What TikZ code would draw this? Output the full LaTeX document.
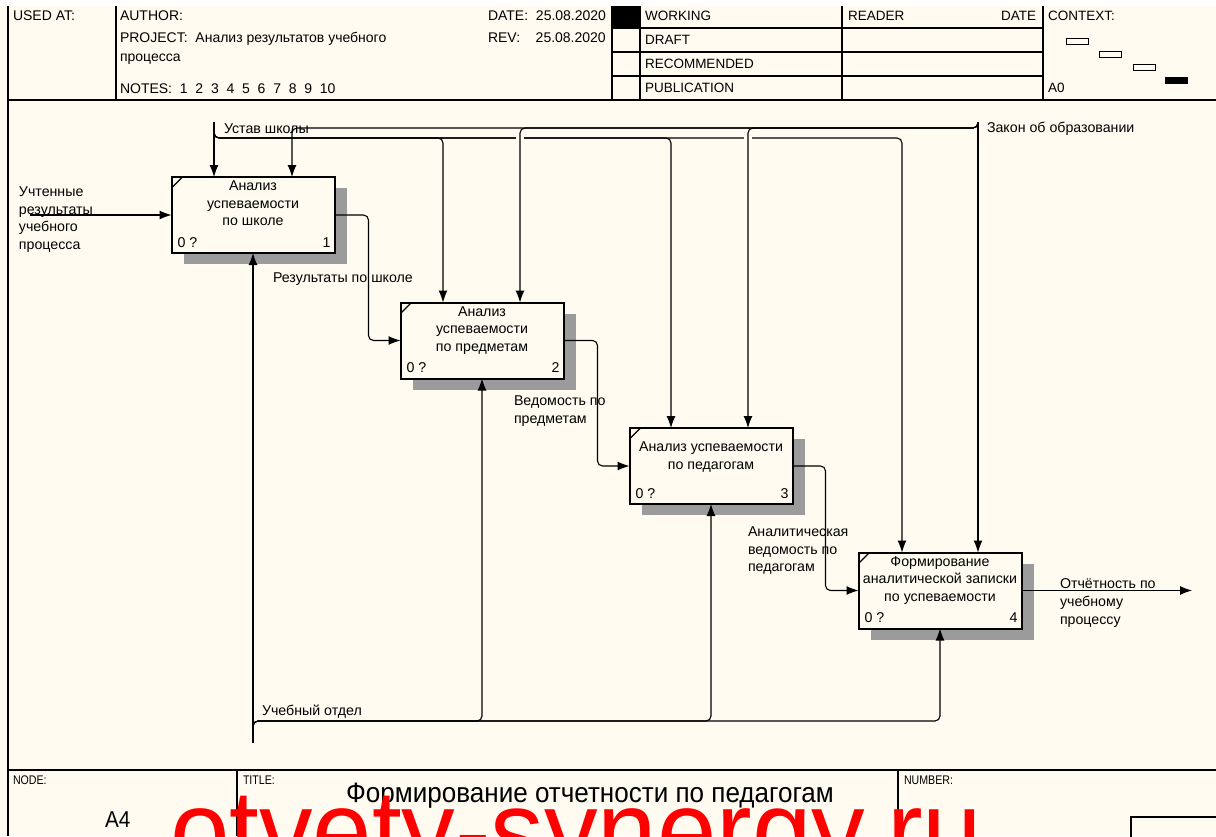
\documentclass[tikz,border=0pt]{standalone}
\usepackage{fontspec}
\setmainfont{Liberation Sans}
\usetikzlibrary{arrows.meta,calc,shadows}
\definecolor{paper}{RGB}{255,251,240}
\definecolor{shade}{RGB}{155,155,155}
\definecolor{wmred}{RGB}{255,0,0}

\begin{document}
\begin{tikzpicture}[x=1pt,y=-1pt,
  every node/.style={inner sep=0pt, outer sep=0pt},
  txt/.style={font=\fontsize{14.2}{17.6}\selectfont},
  hdr/.style={font=\fontsize{14}{16}\selectfont, anchor=base west},
  stat/.style={font=\fontsize{13.5}{16}\selectfont, anchor=base west},
  ftr/.style={font=\fontsize{12.5}{14}\selectfont, anchor=base west},
  func/.style={draw, line width=2pt, fill=paper, minimum width=163pt, minimum height=76pt,
    drop shadow={shadow xshift=12pt, shadow yshift=-11pt, fill=shade, opacity=1}},
  arr/.style={line width=1.1pt, -{Latex[length=12pt,width=9pt]}},
  roundlink/.style={rounded corners=5pt},
  lbl/.style={txt, anchor=north west, align=left},
  frame/.style={line width=1.6pt},
  cell/.style={line width=1.2pt},
]
\useasboundingbox (0,0) rectangle (1216,836);
\clip (0,0) rectangle (1216,836);

% paper
\fill[white] (0,0) rectangle (1216,6);
\fill[paper] (0,6) rectangle (1216,836);

% ---------- header ----------
\draw[frame] (8,6) -- (8,836);
\draw[frame] (8,100) -- (1216,100);
\foreach \x in {116,612,640,842,1043} \draw[cell] (\x,6) -- (\x,100);
\foreach \y in {28,52,76} \draw[cell] (612,\y) -- (1043,\y);
\fill (612,6) rectangle (640,28);

\node[hdr] (usedat) at (13,20.5) {USED AT:};
\node[hdr] (author) at (120,20.5) {AUTHOR:};
\node[hdr] (project) at (120,42.5) {PROJECT:\ \ Анализ результатов учебного};
\node[hdr] (project2) at (120,61) {процесса};
\node[hdr] (notes) at (120,93) {NOTES:\ \ 1\ \ 2\ \ 3\ \ 4\ \ 5\ \ 6\ \ 7\ \ 8\ \ 9\ \ 10};
\node[hdr] (date) at (488,20.5) {DATE:\ \ 25.08.2020};
\node[hdr] (rev) at (488,42.5) {REV:\ \ \ \ 25.08.2020};
\node[stat] (working) at (645,20.5) {WORKING};
\node[stat] (draft) at (645,44.5) {DRAFT};
\node[stat] (recomm) at (645,68.5) {RECOMMENDED};
\node[stat] (public) at (645,92.5) {PUBLICATION};
\node[stat] (reader) at (848,20.5) {READER};
\node[stat, anchor=base east] (rdate) at (1036,20.5) {DATE};
\node[stat] (context) at (1048,20.5) {CONTEXT:};
\node[stat] (ctxnode) at (1048,92.5) {A0};

% context map
\draw[line width=1pt] (1066,38) rectangle (1088,44);
\draw[line width=1pt] (1099,51) rectangle (1121,57);
\draw[line width=1pt] (1133,64) rectangle (1155,70);
\fill (1165,77) rectangle (1188,84);

% ---------- footer ----------
\draw[frame] (8,770) -- (1216,770);
\draw[cell] (237,770) -- (237,836);
\draw[cell] (898,770) -- (898,836);
\draw[cell] (1131,846) -- (1131,817) -- (1226,817);
\node[ftr, xscale=0.85, anchor=base west] (nodelbl) at (13,784) {NODE:};
\node[ftr, xscale=0.85, anchor=base west] (titlelbl) at (243,784) {TITLE:};
\node[ftr, xscale=0.85, anchor=base west] (numlbl) at (904,784) {NUMBER:};
\node[font=\fontsize{28}{32}\selectfont, xscale=0.93, anchor=base] (title) at (590,802) {Формирование отчетности по педагогам};
\node[font=\fontsize{23}{26}\selectfont, xscale=0.9, anchor=base west] (nodeid) at (105,827) {A4};

% ---------- activity boxes ----------
\node[func] (b1) at (253,215) {};
\node[func] (b2) at (482,340.5) {};
\node[func] (b3) at (711,466) {};
\node[func] (b4) at (940,590.5) {};

\foreach \b/\n in {b1/1,b2/2,b3/3,b4/4}{
  \draw[line width=1.2pt] ($(\b.north west)+(0,11)$) -- ($(\b.north west)+(11,0)$);
  \node[txt, anchor=base west] at ($(\b.south west)+(6,-6)$) {0 ?};
  \node[txt, anchor=base east] at ($(\b.south east)+(-4,-6)$) {\n};
}
\node[txt, anchor=north, align=center] (t1) at ($(b1.north)+(0,4)$) {Анализ\\успеваемости\\по школе};
\node[txt, anchor=north, align=center] (t2) at ($(b2.north)+(0,4)$) {Анализ\\успеваемости\\по предметам};
\node[txt, anchor=north, align=center] (t3) at ($(b3.north)+(0,14)$) {Анализ успеваемости\\по педагогам};
\node[txt, anchor=north, align=center] (t4) at ($(b4.north)+(0,4)$) {Формирование\\аналитической записки\\по успеваемости};

% ---------- controls ----------
\coordinate (c0) at (214,122);
\coordinate (cu) at (214,138);
\coordinate (z0) at (978,122);
\coordinate (zl) at (978,128);
\draw[arr] (c0) -- (c0 |- b1.north);
\draw[arr,roundlink] (c0) -- (cu) -| ($(b2.north)+(-39,0)$);
\draw[arr,roundlink] (c0) -- (cu) -| ($(b3.north)+(-40,0)$);
\draw[arr,roundlink] (c0) -- (cu) -| ($(b4.north)+(-38,0)$);
% crossing gaps in the lower line
\foreach \x in {520,748} \fill[paper] (\x-4,135.5) rectangle (\x+4,140.5);
\draw[arr] (z0) -- (z0 |- b4.north);
\draw[arr,roundlink] (z0) -- (zl) -| ($(b1.north)+(39,0)$);
\draw[arr,roundlink] (z0) -- (zl) -| ($(b2.north)+(38,0)$);
\draw[arr,roundlink] (z0) -- (zl) -| ($(b3.north)+(37,0)$);
\node[txt, anchor=west] (lustav) at (224,129) {Устав школы};
\node[txt, anchor=west] (lzakon) at (987,129) {Закон об образовании};

% ---------- input ----------
\coordinate (in1) at (30,215);
\draw[arr] (in1) -- (b1.west);
\node[lbl] (lin) at (19,187) {Учтенные\\результаты\\учебного\\процесса};

% ---------- outputs ----------
\draw[arr,roundlink] (b1.east) -- ++(34,0) |- (b2.west);
\draw[arr,roundlink] (b2.east) -- ++(34,0) |- (b3.west);
\draw[arr,roundlink] (b3.east) -- ++(33,0) |- (b4.west);
\coordinate (out4) at (1192,590.5);
\draw[arr] (b4.east) -- (out4);
\node[lbl] (lo1) at (273,273) {Результаты по школе};
\node[lbl] (lo2) at (514,396) {Ведомость по\\предметам};
\node[lbl] (lo3) at (748,527) {Аналитическая\\ведомость по\\педагогам};
\node[lbl] (lo4) at (1060,579) {Отчётность по\\учебному\\процессу};

% ---------- mechanism ----------
\coordinate (m0) at (253,743);
\coordinate (mj) at (253,730);
\coordinate (mh) at (253,721);
\draw[arr] (m0) -- (b1.south);
\draw[arr,roundlink] (mj) -- (mh) -| (b2.south);
\draw[arr,roundlink] (mj) -- (mh) -| (b3.south);
\draw[arr,roundlink] (mj) -- (mh) -| (b4.south);
\node[txt, anchor=west] (lmech) at (262,712) {Учебный отдел};

% ---------- site mark ----------
\node[font=\fontsize{115}{120}\selectfont, xscale=0.93, text=wmred, anchor=base west] (wm) at (170,870) {otvety-synergy.ru};
\end{tikzpicture}
\end{document}
